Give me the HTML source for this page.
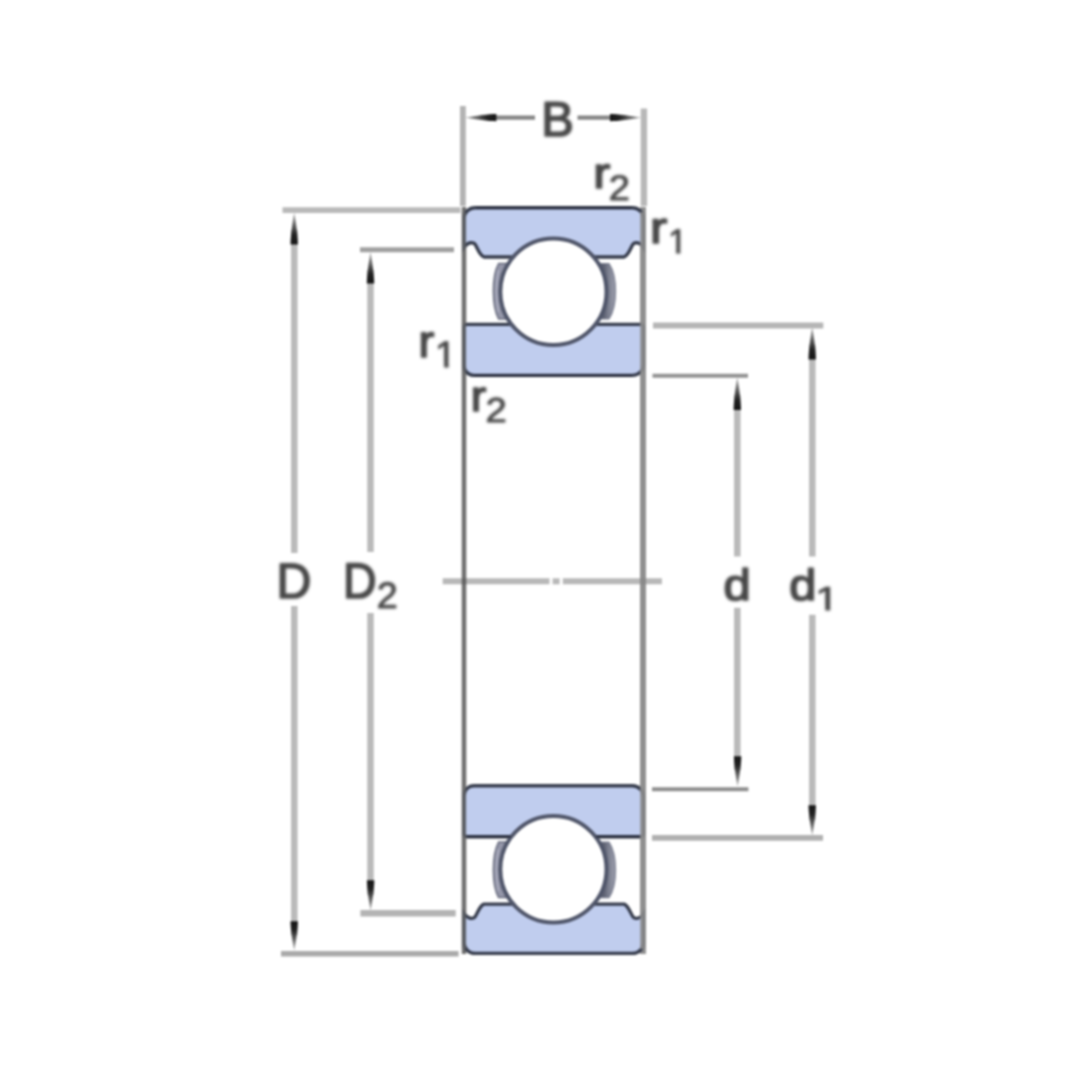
<!DOCTYPE html>
<html>
<head>
<meta charset="utf-8">
<style>
html,body{margin:0;padding:0;background:#fff;}
body{width:1080px;height:1080px;overflow:hidden;}
svg{display:block;filter:blur(1.0px);}
text{text-rendering:geometricPrecision;font-family:"Liberation Sans",sans-serif;fill:#474747;stroke:#474747;stroke-width:1.7px;stroke-linejoin:round;}
</style>
</head>
<body>
<svg width="1080" height="1080" viewBox="0 0 1080 1080">
<rect width="1080" height="1080" fill="#fff"/>
<defs>
  <linearGradient id="rcg" x1="604" y1="0" x2="617" y2="0" gradientUnits="userSpaceOnUse">
    <stop offset="0" stop-color="#5e6272"/><stop offset="0.35" stop-color="#7c8090"/><stop offset="1" stop-color="#a4a6b4"/>
  </linearGradient>
  <g id="brg">
    <path d="M464,218 A11,11 0 0 1 475,207.7 L632.5,207.7 A11,11 0 0 1 643.5,218 L643.5,247.5 C641,243.5 637,242 634,243.3 C631,245 629.5,255 624,257 L484,257 C478.5,255 477,245 474,243.3 C471,242 467,243.5 464,247.5 Z" fill="#c0cdee" stroke="#363c4c" stroke-width="3.4"/>
    <path d="M464,327.4 A3,3 0 0 1 467,324.4 L640.5,324.4 A3,3 0 0 1 643.5,327.4 L643.5,364.3 A11,11 0 0 1 632.5,375.4 L474,375.4 A10,10 0 0 1 464,365.4 Z" fill="#c0cdee" stroke="#363c4c" stroke-width="3.4"/>
    <path d="M498.6,263.5 C491.6,276 491.6,306 498.6,319 L520,319 L520,263.5 Z" fill="#9496a8" stroke="#6a6e80" stroke-width="1.5"/>
    <path d="M498.4,270 C496,282 496,300 498.4,312" fill="none" stroke="#b0b2c4" stroke-width="1.4"/>
    <path d="M609,263.5 C617.7,276 617.7,306 609,319 L588,319 L588,263.5 Z" fill="url(#rcg)" stroke="#7a7e90" stroke-width="1.2"/>
    <ellipse cx="553.4" cy="291.8" rx="53.1" ry="53.2" fill="#fff" stroke="#50566a" stroke-width="4.0"/>
  </g>
</defs>

<g stroke="#b8b8b8" stroke-width="6.0">
  <line x1="442.7" y1="581.3" x2="549.5" y2="581.3"/>
  <line x1="552.6" y1="581.3" x2="559.6" y2="581.3"/>
  <line x1="562.8" y1="581.3" x2="661.9" y2="581.3"/>
</g>
<line x1="464.0" y1="207" x2="464.0" y2="954" stroke="#707070" stroke-width="4.4" style="mix-blend-mode:multiply"/>
<line x1="643.0" y1="207" x2="643.0" y2="954" stroke="#909090" stroke-width="5.9" style="mix-blend-mode:multiply"/>
<use href="#brg"/>
<use href="#brg" transform="translate(0,1161.1) scale(1,-1)"/>
<g stroke="#1e2232" stroke-width="1.6" fill="none">
  <path d="M476,207.7 L631.5,207.7"/>
  <path d="M474,375.7 L632,375.7"/>
  <path d="M467,836.5 L511,836.5 M596,836.5 L640,836.5"/>
</g>

<line x1="464.0" y1="212" x2="464.0" y2="949" stroke="#707070" stroke-width="4.4" opacity="0.6"/>
<line x1="643.0" y1="212" x2="643.0" y2="949" stroke="#909090" stroke-width="5.9" opacity="0.85"/>

<g fill="none">
  <line x1="462.9" y1="106" x2="462.9" y2="206" stroke="#b3b3b3" stroke-width="5.8"/>
  <line x1="643.9" y1="108.5" x2="643.9" y2="206" stroke="#b8b8b8" stroke-width="6.4"/>
  <line x1="282.5" y1="210.1" x2="460.5" y2="210.1" stroke="#b9b9b9" stroke-width="5.8"/>
  <line x1="281" y1="953.75" x2="458.6" y2="953.75" stroke="#aaaaaa" stroke-width="5.3"/>
  <line x1="360" y1="249.85" x2="454" y2="249.85" stroke="#a0a0a0" stroke-width="5.0"/>
  <line x1="360.4" y1="913.3" x2="455.7" y2="913.3" stroke="#b4b4b4" stroke-width="6.4"/>
  <line x1="653" y1="325.5" x2="823.3" y2="325.5" stroke="#b5b5b5" stroke-width="6.2"/>
  <line x1="652" y1="837.9" x2="823" y2="837.9" stroke="#b0b0b0" stroke-width="5.8"/>
  <line x1="652.5" y1="375.8" x2="748" y2="375.8" stroke="#929292" stroke-width="4.0"/>
  <line x1="652" y1="789.15" x2="748.4" y2="789.15" stroke="#8e8e8e" stroke-width="4.0"/>
</g>

<g stroke="#bababa" stroke-width="6.5" fill="none">
  <line x1="294.3" y1="230" x2="294.3" y2="553"/>
  <line x1="294.3" y1="606" x2="294.3" y2="935"/>
  <line x1="370.5" y1="270" x2="370.5" y2="552"/>
  <line x1="370.5" y1="613" x2="370.5" y2="895"/>
  <line x1="737.3" y1="395" x2="737.3" y2="556.5"/>
  <line x1="737.3" y1="607.7" x2="737.3" y2="770"/>
  <line x1="812.3" y1="345" x2="812.3" y2="556.5"/>
  <line x1="812.3" y1="614.8" x2="812.3" y2="820"/>
</g>

<g stroke="#858585" stroke-width="4.2">
  <line x1="490" y1="117.6" x2="535" y2="117.6"/>
  <line x1="577.5" y1="117.6" x2="615" y2="117.6"/>
</g>

<defs>
  <linearGradient id="au" x1="0" y1="0" x2="0" y2="1"><stop offset="0" stop-color="#b4b4b4"/><stop offset="0.4" stop-color="#606060"/><stop offset="0.7" stop-color="#222"/><stop offset="1" stop-color="#151515"/></linearGradient>
  <linearGradient id="ad" x1="0" y1="1" x2="0" y2="0"><stop offset="0" stop-color="#b4b4b4"/><stop offset="0.4" stop-color="#606060"/><stop offset="0.7" stop-color="#222"/><stop offset="1" stop-color="#151515"/></linearGradient>
  <linearGradient id="al" x1="0" y1="0" x2="1" y2="0"><stop offset="0" stop-color="#b4b4b4"/><stop offset="0.4" stop-color="#606060"/><stop offset="0.7" stop-color="#222"/><stop offset="1" stop-color="#151515"/></linearGradient>
  <linearGradient id="ar" x1="1" y1="0" x2="0" y2="0"><stop offset="0" stop-color="#b4b4b4"/><stop offset="0.4" stop-color="#606060"/><stop offset="0.7" stop-color="#222"/><stop offset="1" stop-color="#151515"/></linearGradient>
</defs>
<g>
  <path fill="url(#au)" d="M294.2,212.5 C296.235,223.7 297.9,236.5 297.9,244.5 L290.5,244.5 C290.5,236.5 292.16499999999996,223.7 294.2,212.5 Z"/>
  <path fill="url(#ad)" d="M294.2,950.5 C296.235,940.28 297.9,928.5999999999999 297.9,921.3 L290.5,921.3 C290.5,928.5999999999999 292.16499999999996,940.28 294.2,950.5 Z"/>
  <path fill="url(#au)" d="M370.5,252 C372.535,262.99 374.2,275.54999999999995 374.2,283.4 L366.8,283.4 C366.8,275.54999999999995 368.465,262.99 370.5,252 Z"/>
  <path fill="url(#ad)" d="M370.6,910.5 C372.63500000000005,899.895 374.3,887.7750000000001 374.3,880.2 L366.90000000000003,880.2 C366.90000000000003,887.7750000000001 368.565,899.895 370.6,910.5 Z"/>
  <path fill="url(#au)" d="M737.3,377 C739.3349999999999,388.515 741.0,401.67499999999995 741.0,409.9 L733.5999999999999,409.9 C733.5999999999999,401.67499999999995 735.265,388.515 737.3,377 Z"/>
  <path fill="url(#ad)" d="M737.6,786.5 C739.635,775.93 741.3000000000001,763.8499999999999 741.3000000000001,756.3 L733.9,756.3 C733.9,763.8499999999999 735.565,775.93 737.6,786.5 Z"/>
  <path fill="url(#au)" d="M812.2,327 C814.235,338.34 815.9000000000001,351.29999999999995 815.9000000000001,359.4 L808.5,359.4 C808.5,351.29999999999995 810.1650000000001,338.34 812.2,327 Z"/>
  <path fill="url(#ad)" d="M812.2,835.5 C814.235,824.895 815.9000000000001,812.7750000000001 815.9000000000001,805.2 L808.5,805.2 C808.5,812.7750000000001 810.1650000000001,824.895 812.2,835.5 Z"/>
  <path fill="url(#al)" d="M465,117.6 C475.99,119.63499999999999 488.54999999999995,121.3 496.4,121.3 L496.4,113.89999999999999 C488.54999999999995,113.89999999999999 475.99,115.565 465,117.6 Z"/>
  <path fill="url(#ar)" d="M641.5,117.6 C630.475,119.63499999999999 617.875,121.3 610,121.3 L610,113.89999999999999 C617.875,113.89999999999999 630.475,115.565 641.5,117.6 Z"/>
</g>



<g style="filter:blur(1.0px)">
<defs><clipPath id="c6" clipPathUnits="userSpaceOnUse"><rect x="810.28" y="550.05" width="32.71" height="55.86"/><rect x="825.36" y="604.91" width="4.84" height="8.14"/></clipPath><clipPath id="c10" clipPathUnits="userSpaceOnUse"><rect x="662.89" y="193.15" width="28.74" height="55.79"/><rect x="676.12" y="247.94" width="4.18" height="8.21"/></clipPath><clipPath id="c12" clipPathUnits="userSpaceOnUse"><rect x="430.08" y="307.25" width="30.50" height="55.59"/><rect x="444.13" y="361.84" width="4.47" height="8.41"/></clipPath></defs>
<text style="stroke-width:3.465px" font-size="100" transform="translate(541.24,136.48) scale(0.48870,0.49056)">B</text>
<text style="stroke-width:3.437px" font-size="100" transform="translate(276.47,597.64) scale(0.48254,0.49463)">D</text>
<text style="stroke-width:3.410px" font-size="100" transform="translate(342.93,597.66) scale(0.46498,0.49856)">D</text>
<text style="stroke-width:2.445px" font-size="100" transform="translate(376.85,608.05) scale(0.37755,0.36807)">2</text>
<text style="stroke-width:3.859px" font-size="100" transform="translate(723.41,600.25) scale(0.48899,0.44051)">d</text>
<text style="stroke-width:3.883px" font-size="100" transform="translate(789.22,600.05) scale(0.48654,0.43779)">d</text>
<g clip-path="url(#c6)"><text style="stroke-width:2.704px" font-size="100" transform="translate(815.28,610.05) scale(0.42273,0.33285)">1</text></g>
<text style="stroke-width:3.909px" font-size="100" transform="translate(593.28,188.25) scale(0.50800,0.43487)">r</text>
<text style="stroke-width:2.534px" font-size="100" transform="translate(608.74,199.65) scale(0.37975,0.35518)">2</text>
<text style="stroke-width:3.843px" font-size="100" transform="translate(650.02,243.35) scale(0.51600,0.44231)">r</text>
<g clip-path="url(#c10)"><text style="stroke-width:2.624px" font-size="100" transform="translate(667.89,253.15) scale(0.34886,0.34303)">1</text></g>
<text style="stroke-width:3.734px" font-size="100" transform="translate(418.42,357.45) scale(0.47200,0.45532)">r</text>
<g clip-path="url(#c12)"><text style="stroke-width:2.438px" font-size="100" transform="translate(435.08,367.25) scale(0.38169,0.36919)">1</text></g>
<text style="stroke-width:3.943px" font-size="100" transform="translate(470.87,410.75) scale(0.46400,0.43116)">r</text>
<text style="stroke-width:2.597px" font-size="100" transform="translate(485.42,421.65) scale(0.38414,0.34658)">2</text>

</g>
</svg>
</body>
</html>
